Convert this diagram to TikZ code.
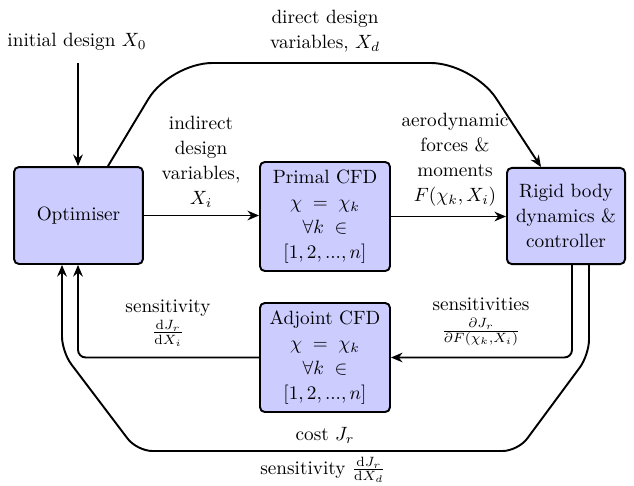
\documentclass[tikz,border=0pt]{standalone}
\usetikzlibrary{arrows.meta,calc}
\definecolor{boxfill}{RGB}{204,204,255}
\begin{document}
\begin{tikzpicture}[x=0.52pt,y=-0.52pt,
  every node/.style={font=\fontsize{10}{13}\selectfont},
  blk/.style={draw,line width=1pt,fill=boxfill,rounded corners=2.5pt,align=center,inner sep=0pt},
  conn/.style={line width=1pt,-{Stealth[length=6pt,width=5pt]}},
  lbl/.style={align=center,inner sep=0pt}]
\useasboundingbox (0,0) rectangle (634,485);
% blocks
\node[blk,minimum width=67pt,minimum height=50.4pt] (opt) at (78.5,215.5) {Optimiser};
\node[blk,minimum width=67.6pt,minimum height=56.7pt] (primal) at (325,216.5)
  {Primal CFD\\$\chi\;=\;\chi_k$\\$\forall k\;\in$\\$[1,2,...,n]$};
\node[blk,minimum width=61.4pt,minimum height=50pt] (rigid) at (566,216)
  {Rigid body\\dynamics \&\\controller};
\node[blk,minimum width=67.6pt,minimum height=56.7pt] (adj) at (325,357.5)
  {Adjoint CFD\\$\chi\;=\;\chi_k$\\$\forall k\;\in$\\$[1,2,...,n]$};
% labels
\node[lbl] (initl) at (77,42) {initial design $X_0$};
\node[lbl] (dirl) at (325,31) {direct design\\variables, $X_d$};
\node[lbl] (indl) at (201,162) {indirect\\design\\variables,\\$X_i$};
\node[lbl] (aerol) at (455,160) {aerodynamic\\forces \&\\moments\\$F(\chi_k,X_i)$};
\node[lbl] (sensl) at (168,323) {sensitivity\\$\frac{\mathrm{d}J_r}{\mathrm{d}X_i}$};
\node[lbl] (sensr) at (481,322) {sensitivities\\$\frac{\partial J_r}{\partial F(\chi_k,X_i)}$};
\node[lbl] (costl) at (325,435) {cost $J_r$};
\node[lbl] (sensd) at (323,470) {sensitivity $\frac{\mathrm{d}J_r}{\mathrm{d}X_d}$};
% coordinates
\coordinate (initc) at (78,63);
\coordinate (d1) at (170,63);
\coordinate (d2) at (473,63);
\coordinate (o1) at (589,355);
\coordinate (o2) at (518,451);
\coordinate (o3) at (137,451);
\coordinate (o4) at (62,352);
% connectors
\draw[conn] (initc) -- (initc |- opt.north);
\draw[conn,rounded corners=22pt] ($(opt.north)+(29.5,0)$) -- (d1) -- (d2) -- ($(rigid.north)+(-25,0)$);
\draw[conn] (opt.east) -- (opt.east -| primal.west);
\draw[conn] (primal.east) -- (primal.east -| rigid.west);
\draw[conn,rounded corners=4pt] ($(rigid.south)+(6,0)$) |- (adj.east);
\draw[conn,rounded corners=4pt] (adj.west) -| ($(opt.south)+(-0.5,0)$);
\draw[conn,rounded corners=8pt] ($(rigid.south)+(23,0)$) -- (o1) -- (o2) -- (o3) -- (o4) -- (o4 |- opt.south);
\end{tikzpicture}
\end{document}
